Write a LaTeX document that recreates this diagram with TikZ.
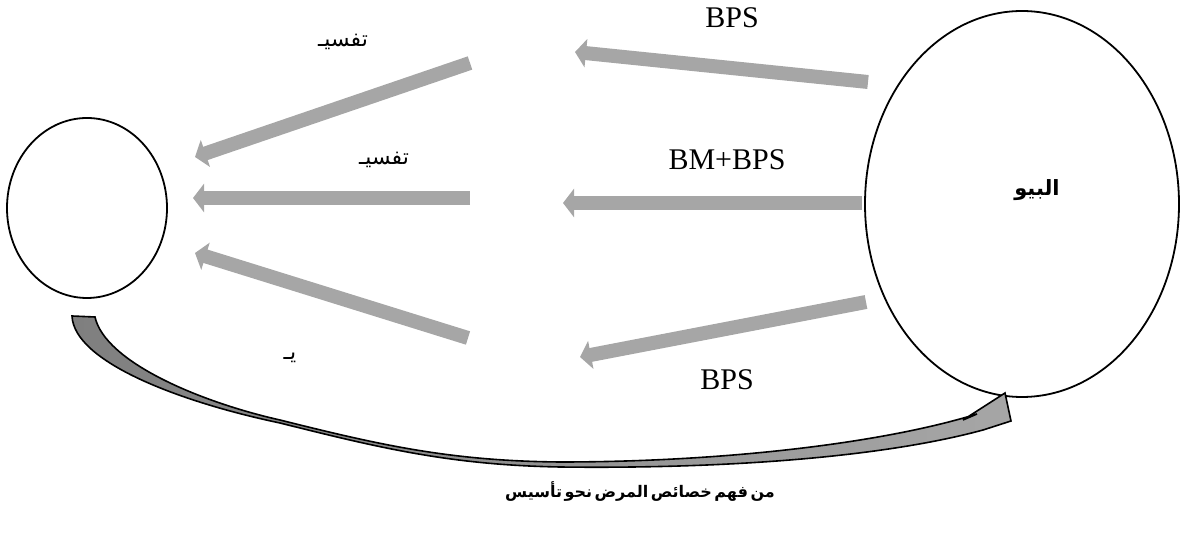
\documentclass[tikz,border=0pt]{standalone}
\usepackage{fontspec}
\setmainfont{Liberation Serif}
\newfontfamily\arabicfont[Script=Arabic]{DejaVu Sans}
\newfontfamily\arabiccap[Script=Arabic,WordSpace=0.45]{DejaVu Sans}
\TeXXeTstate=1
\usetikzlibrary{arrows.meta}
\usetikzlibrary{shapes.geometric}
\definecolor{bargray}{HTML}{A6A6A6}
\definecolor{darkgray}{HTML}{7F7F7F}

\begin{document}
\begin{tikzpicture}[x=0.5pt,y=-0.5pt,
circ/.style={draw,ellipse,inner sep=0pt,line width=0.9pt},
graybar/.style={draw=bargray,line width=7pt,-{Triangle[length=5.5pt,width=14pt]}},
latin/.style={font=\fontsize{15}{18}\selectfont,inner sep=0pt},
arab/.style={font=\arabicfont\fontsize{11}{13}\selectfont,inner sep=0pt}]

\useasboundingbox (0,0) rectangle (1184,533);

\node[circ,minimum width=80pt,minimum height=90pt] (pat) at (87,208) {};
\node[circ,minimum width=157pt,minimum height=193pt] (bio) at (1022,204) {};
\node[arab,font=\arabicfont\bfseries\fontsize{10.5}{12}\selectfont] (bioname) at (1037,190) {\beginR البيو\endR};

% bars from the big ellipse
\coordinate (r1a) at (868,82);  \coordinate (r1b) at (575,52);
\coordinate (r2a) at (862,203); \coordinate (r2b) at (563,203);
\coordinate (r3a) at (866,302); \coordinate (r3b) at (580,357);
\draw[graybar] (r1a) -- (r1b);
\draw[graybar] (r2a) -- (r2b);
\draw[graybar] (r3a) -- (r3b);

% bars into the small circle
\coordinate (l1a) at (470,63);  \coordinate (l1b) at (195,157);
\coordinate (l2a) at (470,198); \coordinate (l2b) at (193,198);
\coordinate (l3a) at (468,338); \coordinate (l3b) at (195,253);
\draw[graybar] (l1a) -- (l1b);
\draw[graybar] (l2a) -- (l2b);
\draw[graybar] (l3a) -- (l3b);

\node[latin] (bps1) at (732,18) {BPS};
\node[latin] (bmbps) at (727,160) {BM+BPS};
\node[latin] (bps2) at (727,380) {BPS};

\node[arab] (tafsir1) at (343,42) {\beginR تفسيـ\endR};
\node[arab] (tafsir2) at (384,160) {\beginR تفسيـ\endR};
\node[arab] (ya) at (290,358) {\beginR يـ\endR};

% curved arrow under the picture
\draw[left color=darkgray,right color=bargray,line width=0.8pt,line join=miter]
  (72,316) .. controls (74,362) and (180,402) .. (280,423)
  .. controls (380,448) and (450,465) .. (560,467)
  .. controls (720,469) and (880,458) .. (983,430)
  -- (1011,421) -- (1005,393) -- (963,420) -- (977,414)
  .. controls (880,444) and (720,462) .. (560,462)
  .. controls (450,461) and (380,445) .. (280,420)
  .. controls (200,402) and (105,362) .. (95,317) -- cycle;

\node[font=\arabiccap\bfseries\fontsize{8}{10}\selectfont,inner sep=0pt] (caption) at (640,492) {\beginR من فهم خصائص المرض نحو تأسيس\endR};

\end{tikzpicture}
\end{document}
